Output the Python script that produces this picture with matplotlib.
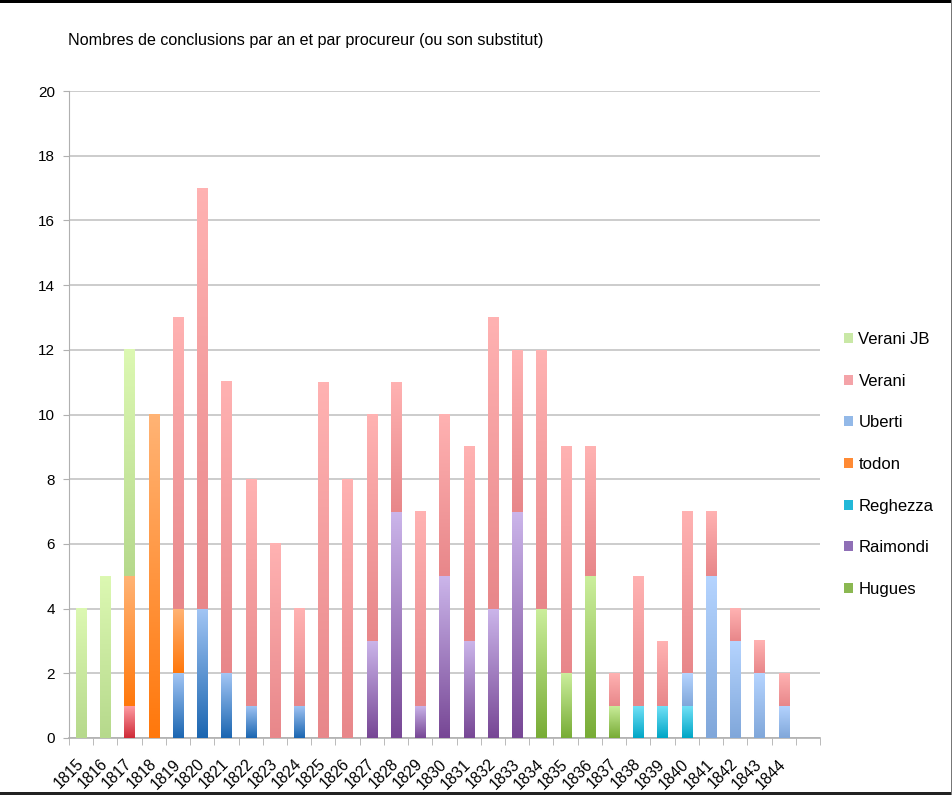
import numpy as np
import matplotlib
matplotlib.use("Agg")
import matplotlib.pyplot as plt
from matplotlib.colors import to_rgb
from matplotlib.patches import Patch, Rectangle

plt.rcParams['font.family'] = ['Liberation Sans', 'DejaVu Sans']

# Data
years = list(range(1815, 1845))
verani_bas = [0, 0, 1] + [0] * 27          # bottom red segment of 1817
hugues    = [0] * 19 + [4, 2, 5, 1] + [0] * 7
raimondi  = [0] * 12 + [3, 7, 1, 5, 3, 4, 7] + [0] * 11
reghezza  = [0] * 23 + [1, 1, 1] + [0] * 4
uberti    = [0, 0, 0, 0, 2, 4, 2, 1, 0, 1] + [0] * 15 + [1, 5, 3, 2, 1]
todon     = [0, 0, 4, 10, 2] + [0] * 25
verani    = [0, 0, 0, 0, 9, 13, 9, 7, 6, 3, 11, 8, 7, 4, 6, 5, 6, 9, 5, 8,
             7, 4, 1, 4, 2, 5, 2, 1, 1, 1]
verani_jb = [4, 5, 7] + [0] * 27

# stacking order, bottom to top: (values, top colour, bottom colour)
stack = [
    (verani_bas, '#ff9fa6', '#cf2b38'),
    (hugues,     '#cbee9c', '#78ac36'),
    (raimondi,   '#cbb5ea', '#774795'),
    (reghezza,   '#74e2f8', '#00a6c6'),
    (uberti,     None, None),
    (todon,      '#ffb374', '#ff780c'),
    (verani,     '#ffb2b2', '#e8878a'),
    (verani_jb,  '#dcf8b2', '#b6d98c'),
]

legend_names = ['Verani JB', 'Verani', 'Uberti', 'todon', 'Reghezza', 'Raimondi', 'Hugues']
legend_colors = ['#c9e8a6', '#f4a3a8', '#93b9e8', '#ff8a34', '#22b8d8', '#8f6fb6', '#8bb852']

fig = plt.figure(figsize=(9.53, 7.95), dpi=100)
ax = fig.add_axes([0.0724, 0.0717, 0.788, 0.8138])

w = 0.42
n = 64
t = np.linspace(0, 1, n)[:, None, None]

bottoms = np.zeros(len(years))
for vals, ctop, cbot in stack:
    for i, v in enumerate(vals):
        if v <= 0:
            continue
        if ctop is None:
            # Uberti looks darker in the early years
            if years[i] < 1830:
                top_c, bot_c = to_rgb('#a2c5f4'), to_rgb('#1b66b1')
            else:
                top_c, bot_c = to_rgb('#b5d4ff'), to_rgb('#80a7da')
        else:
            top_c, bot_c = to_rgb(ctop), to_rgb(cbot)
        top_c, bot_c = np.array(top_c), np.array(bot_c)
        grad = bot_c[None, None, :] * (1 - t) + top_c[None, None, :] * t
        b = bottoms[i]
        ax.imshow(grad, extent=(i - w / 2, i + w / 2, b, b + v), origin='lower',
                  aspect='auto', interpolation='bilinear', zorder=3)
    bottoms += np.array(vals)

ax.set_xlim(-0.5, 30.5)
ax.set_ylim(0, 20)
ax.set_yticks(range(0, 21, 2))
ax.yaxis.grid(True, color='#c4c4c4', linewidth=1.2)
ax.set_axisbelow(True)

ax.set_xticks(range(len(years)))
ax.set_xticklabels([str(y) for y in years], rotation=45, ha='right', va='center',
                   rotation_mode='anchor', fontsize=11.3)
ax.set_xticks(np.arange(-0.5, 30.6, 1), minor=True)
ax.tick_params(axis='x', which='major', length=0, pad=17)
ax.tick_params(axis='x', which='minor', length=5, color='#b0b0b0', direction='out')
ax.tick_params(axis='y', length=4, color='#b0b0b0', labelsize=11, pad=6)

for s in ['top', 'right']:
    ax.spines[s].set_visible(False)
ax.spines['left'].set_color('#b0b0b0')
ax.spines['bottom'].set_color('#b0b0b0')
ax.spines['bottom'].set_linewidth(1.2)

fig.text(68 / 953, 1 - 40 / 795, 'Nombres de conclusions par an et par procureur (ou son substitut)',
         fontsize=11.6, ha='left', va='center')

handles = [Patch(facecolor=c, edgecolor='none') for c in legend_colors]
fig.legend(handles, legend_names, loc='center left', bbox_to_anchor=(836 / 953, 1 - 464.5 / 795),
           frameon=False, fontsize=12, handlelength=0.55, handleheight=0.55,
           handletextpad=0.3, labelspacing=1.6, borderpad=0)

# window frame
fig.patches.append(Rectangle((0, 1 - 3 / 795), 1, 3 / 795, transform=fig.transFigure,
                             facecolor='black', edgecolor='none'))
fig.patches.append(Rectangle((0, 0), 1, 3 / 795, transform=fig.transFigure,
                             facecolor='#222222', edgecolor='none'))
fig.patches.append(Rectangle((1 - 2 / 953, 0), 2 / 953, 1, transform=fig.transFigure,
                             facecolor='#777777', edgecolor='none'))

fig.savefig('out.png', dpi=100)
